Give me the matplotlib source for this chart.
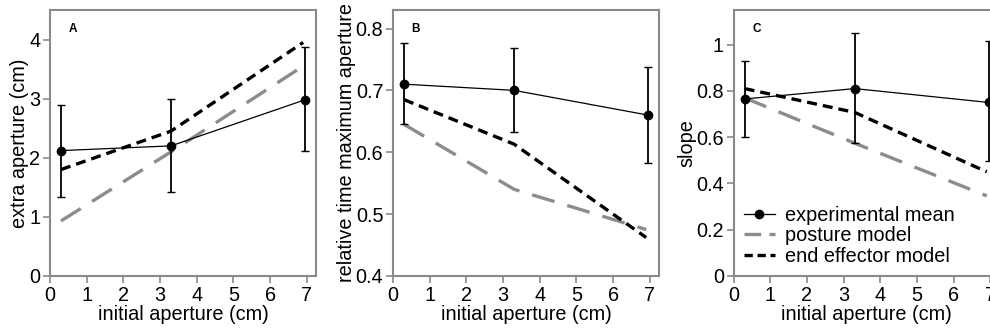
import numpy as np
import matplotlib.pyplot as plt
from matplotlib.lines import Line2D

plt.rcParams['font.family'] = ['Liberation Sans', 'DejaVu Sans']

# initial aperture (cm)
x_exp = [0.3, 3.3, 6.95]
x_mod = [0.3, 3.3, 6.9]

# panel A: extra aperture (cm)
a_mean = [2.12, 2.2, 2.98]
a_lo = [1.33, 1.42, 2.12]
a_hi = [2.9, 3.0, 3.88]
a_posture = [0.93, 2.1, 3.55]
a_effector = [1.8, 2.45, 3.95]

# panel B: relative time maximum aperture
b_mean = [0.71, 0.70, 0.66]
b_lo = [0.645, 0.632, 0.582]
b_hi = [0.777, 0.768, 0.738]
b_posture = [0.645, 0.54, 0.475]
b_effector = [0.685, 0.613, 0.462]

# panel C: slope
c_mean = [0.765, 0.81, 0.75]
c_lo = [0.60, 0.574, 0.495]
c_hi = [0.928, 1.05, 1.014]
c_posture = [0.77, 0.574, 0.346]
c_effector = [0.81, 0.707, 0.45]

panels = [
    ('A', 'extra aperture (cm)', a_mean, a_lo, a_hi, a_posture, a_effector,
     (0, 4.5), [0, 1, 2, 3, 4], ['0', '1', '2', '3', '4']),
    ('B', 'relative time maximum aperture', b_mean, b_lo, b_hi, b_posture, b_effector,
     (0.4, 0.83), [0.4, 0.5, 0.6, 0.7, 0.8], ['0.4', '0.5', '0.6', '0.7', '0.8']),
    ('C', 'slope', c_mean, c_lo, c_hi, c_posture, c_effector,
     (0, 1.15), [0, 0.2, 0.4, 0.6, 0.8, 1.0], ['0', '0.2', '0.4', '0.6', '0.8', '1']),
]

fig = plt.figure(figsize=(9.9, 3.32), dpi=100)
lefts = [0.0505, 0.397, 0.741]
spine_col = '#8a8a8a'
fs = 14.3

for left, (letter, ylab, mean, lo, hi, post, eff, ylim, yt, ytl) in zip(lefts, panels):
    ax = fig.add_axes([left, 0.169, 0.2687, 0.801])
    mean = np.array(mean)
    err = [mean - np.array(lo), np.array(hi) - mean]
    ax.plot(x_mod, post, color='#8c8c8c', lw=2.4, dashes=(7, 4), zorder=2)
    ax.plot(x_mod, eff, color='black', lw=2.4, dashes=(3, 1.8), zorder=3)
    ax.errorbar(x_exp, mean, yerr=err, color='black', lw=0.9, elinewidth=1.3,
                capsize=3, capthick=1.0, marker='o', ms=6, zorder=4)
    ax.set_xlim(0, 7.25)
    ax.set_ylim(*ylim)
    ax.set_xticks(range(8))
    ax.set_yticks(yt)
    ax.set_yticklabels(ytl)
    ax.tick_params(labelsize=fs, colors='black', length=5, width=1.2, pad=2)
    ax.tick_params(color=spine_col)
    for s in ax.spines.values():
        s.set_color(spine_col)
        s.set_linewidth(1.5)
    ax.set_xlabel('initial aperture (cm)', fontsize=fs, labelpad=0)
    ax.set_ylabel(ylab, fontsize=fs, labelpad=0)
    ax.text(0.07, 0.95, letter, transform=ax.transAxes, fontsize=8.5,
            fontweight='bold', va='top', ha='left')
    if letter == 'C':
        handles = [
            Line2D([], [], color='black', lw=0.9, marker='o', ms=6),
            Line2D([], [], color='#8c8c8c', lw=2.4, dashes=(5, 2.5)),
            Line2D([], [], color='black', lw=2.4, dashes=(2.5, 1.4)),
        ]
        labels = ['experimental mean', 'posture model', 'end effector model']
        ax.legend(handles, labels, loc='lower left', frameon=False, fontsize=fs,
                  handlelength=1.6, handletextpad=0.5, labelspacing=0.08,
                  borderaxespad=0.3, borderpad=0.2)

fig.savefig('out.png', dpi=100)
